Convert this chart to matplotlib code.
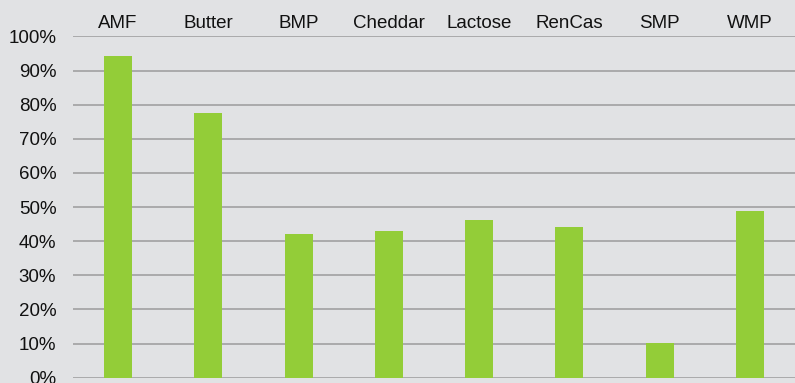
import numpy as np
import matplotlib.pyplot as plt
from matplotlib.ticker import PercentFormatter

## Données
products = ["AMF", "Butter", "BMP", "Cheddar", "Lactose", "RenCas", "SMP", "WMP"]
shares = [94.3, 77.6, 42.1, 43.0, 46.2, 44.1, 10.3, 48.8]  # [%]

bg = "#e1e2e4"
plt.rcParams['font.family'] = ['Liberation Sans', 'DejaVu Sans']

fig = plt.figure(figsize=(7.95, 3.83), dpi=100, facecolor=bg)
ax = fig.add_axes([73/795, 0.0138, 1 - 73/795, 0.891])
ax.set_facecolor(bg)

x = np.arange(len(products))
ax.bar(x, shares, width=0.31, color="#93cd38", zorder=3)

ax.set_xlim(-0.5, len(products) - 0.5)
ax.set_ylim(0, 100)
ax.set_yticks(np.arange(0, 101, 10))
ax.yaxis.set_major_formatter(PercentFormatter(decimals=0))
ax.grid(axis="y", color="#a6a6a6", linewidth=1.3, zorder=0)

ax.set_xticks(x)
ax.set_xticklabels(products)
ax.xaxis.tick_top()
ax.tick_params(axis="x", length=0, pad=3.5, labelsize=13.5, labelcolor="#111111")
ax.tick_params(axis="y", length=0, pad=12, labelsize=13.5, labelcolor="#111111")
for s in ax.spines.values():
    s.set_visible(False)

fig.savefig("out.png", dpi=100, facecolor=bg)
